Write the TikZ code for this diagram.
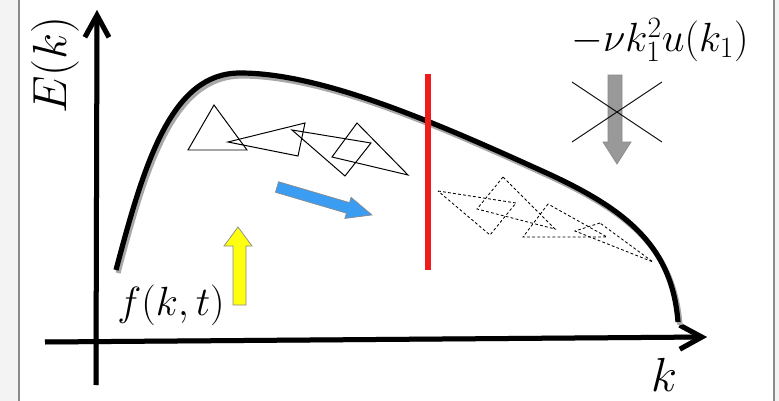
\documentclass[tikz,border=0pt]{standalone}
\usepackage{fix-cm}
\usepackage{xcolor}
\usepackage{tikz}
\usetikzlibrary{arrows.meta}
\DeclareMathSizes{29}{29}{21}{16}
\DeclareMathSizes{34}{34}{24}{18}
\definecolor{cutred}{HTML}{F21B1B}
\definecolor{fluxblue}{HTML}{3A9DF2}
\definecolor{forceyellow}{HTML}{FFFF10}
\definecolor{dissgray}{HTML}{999999}
\definecolor{edgegray}{HTML}{8A8A8A}
\definecolor{shadowgray}{HTML}{A8A8A8}
\definecolor{panelgray}{HTML}{F3F3F3}

\begin{document}
\begin{tikzpicture}[
  x=0.025cm, y=-0.025cm,
  axis/.style={line width=0.125cm, -{Straight Barb[length=0.55cm, width=0.6cm]}},
  spectrum/.style={line width=0.13cm},
  shadow/.style={draw=shadowgray, shift={(2,3)}},
  eddy/.style={line width=0.7pt},
  smalleddy/.style={line width=0.6pt, dash pattern=on 2pt off 1.6pt},
  blockarrow/.style={draw=edgegray, line width=0.5pt, line join=miter},
  cross/.style={line width=0.6pt},
  lab/.style={inner sep=0pt, font=\fontsize{29}{34}\selectfont},
  biglab/.style={inner sep=0pt, font=\fontsize{34}{40}\selectfont}
]
\useasboundingbox (0,0) rectangle (779,401);
\fill[panelgray] (0,0) rectangle (779,401);
\fill[white] (19,0) rectangle (774,401);
\draw[edgegray, line width=0.8pt] (19,0) -- (19,401) (774,0) -- (774,401);

\coordinate (ybot) at (96,385);
\coordinate (ytop) at (97,10);
\coordinate (xleft) at (45,342);
\coordinate (xright) at (707,337);

% axes with shadow
\draw[axis, shadow] (ybot) -- (ytop);
\draw[axis, shadow] (xleft) -- (xright);
\draw[axis] (ybot) -- (ytop);
\draw[axis] (xleft) -- (xright);

% energy spectrum
\draw[spectrum, shadow] (116,270) .. controls (145,160) and (172,73) .. (240,73)
  .. controls (320,73) and (430,120) .. (540,170)
  .. controls (625,208) and (672,245) .. (678,322);
\draw[spectrum] (116,270) .. controls (145,160) and (172,73) .. (240,73)
  .. controls (320,73) and (430,120) .. (540,170)
  .. controls (625,208) and (672,245) .. (678,322);

% cut-off
\draw[cutred, line width=0.15cm] (428,74) -- (428,270);

% large eddies
\draw[eddy] (214,105) -- (188,150) -- (247,150) -- cycle;
\draw[eddy] (228,142) -- (305,123) -- (298,156) -- cycle;
\draw[eddy] (292,130) -- (371,143) -- (345,176) -- cycle;
\draw[eddy] (357,123) -- (332,157) -- (408,175) -- cycle;

% small eddies
\draw[smalleddy] (438,191) -- (516,203) -- (490,235) -- cycle;
\draw[smalleddy] (503,177) -- (477,209) -- (555,229) -- cycle;
\draw[smalleddy] (548,204) -- (523,237) -- (607,237) -- cycle;
\draw[smalleddy] (600,223) -- (575,231) -- (653,262) -- cycle;

% transfer, forcing and dissipation
\begin{scope}[shift={(277,187)}, rotate=-16.4]
\fill[fluxblue, blockarrow] (0,-5.5) -- (74,-5.5) -- (74,-11) -- (99,0) -- (74,11) -- (74,5.5) -- (0,5.5) -- cycle;
\end{scope}
\fill[forceyellow, blockarrow] (233,305) -- (233,246) -- (224,246) -- (238,227) -- (252,246) -- (246,246) -- (246,305) -- cycle;
\fill[dissgray, blockarrow] (608,75) -- (608,142) -- (603,142) -- (617,164) -- (631,142) -- (622,142) -- (622,75) -- cycle;
\draw[cross] (572,82) -- (662,142) (572,142) -- (662,82);

\node[biglab, rotate=90] (ek) at (55,65) {$E(k)$};
\node[lab] (forcing) at (171,305) {$f(k,t)$};
\node[lab] (visc) at (660,40) {$-\nu k_1^2 u(k_1)$};
\node[biglab] (kaxis) at (664,375) {$k$};
\end{tikzpicture}
\end{document}
